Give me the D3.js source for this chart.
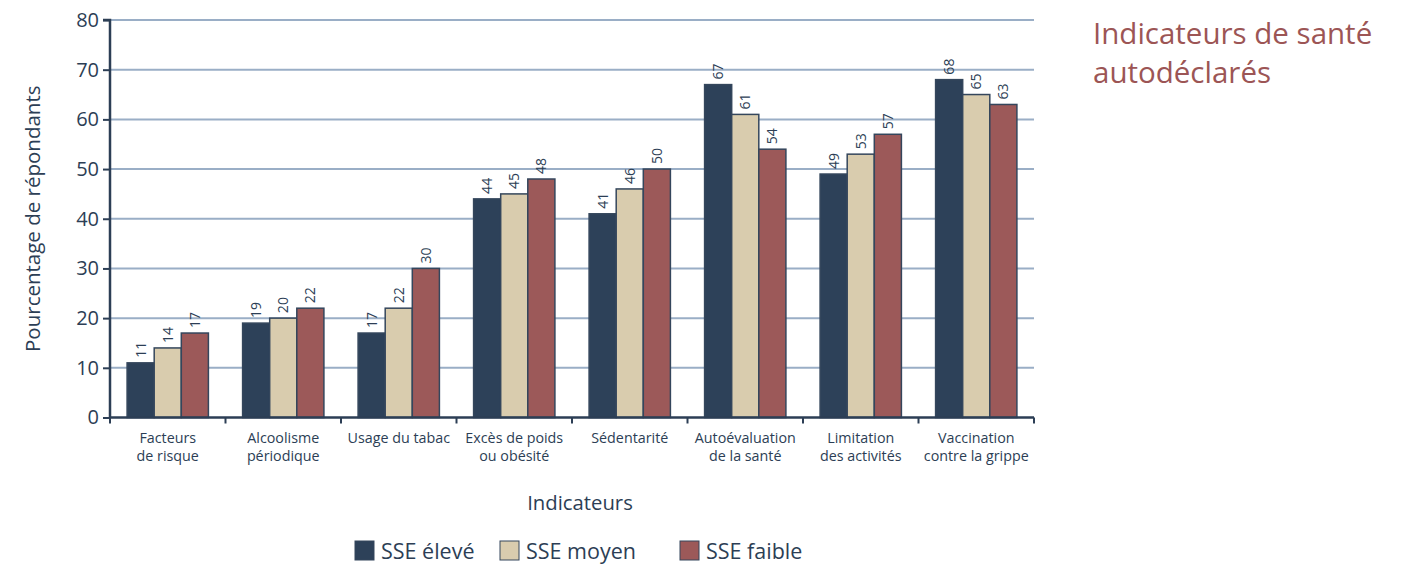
<!DOCTYPE html>
<html lang="fr">
<head>
<meta charset="utf-8">
<script src="https://cdn.jsdelivr.net/npm/d3@7"></script>
<style>
  html, body { margin: 0; padding: 0; background: #fff; }
  svg { display: block; font-family: "Open Sans", Lato, sans-serif; }
</style>
</head>
<body>
<svg id="chart" width="1408" height="564"></svg>
<script>
// Health indicators by socio-economic status (SSE)
const categories = [
  ["Facteurs", "de risque"],
  ["Alcoolisme", "périodique"],
  ["Usage du tabac"],
  ["Excès de poids", "ou obésité"],
  ["Sédentarité"],
  ["Autoévaluation", "de la santé"],
  ["Limitation", "des activités"],
  ["Vaccination", "contre la grippe"]
];
const seriesNames = ["SSE élevé", "SSE moyen", "SSE faible"];
const sseEleve  = [11, 19, 17, 44, 41, 67, 49, 68];
const sseMoyen  = [14, 20, 22, 45, 46, 61, 53, 65];
const sseFaible = [17, 22, 30, 48, 50, 54, 57, 63];
const yTicks = [0, 10, 20, 30, 40, 50, 60, 70, 80];
const colors = ["#2d4159", "#d9ccae", "#9c5959"];

const series = [sseEleve, sseMoyen, sseFaible];
const navy = "#2c3e55";

const svg = d3.select("#chart");
const plotLeft = 110, plotRight = 1034, plotTop = 20, plotBottom = 417.5;

const x0 = d3.scaleBand().domain(d3.range(categories.length)).range([plotLeft, plotRight]).padding(0);
const x1 = d3.scaleBand().domain(d3.range(series.length))
  .range([x0.bandwidth() * 0.148, x0.bandwidth() * 0.852]).padding(0);
const y = d3.scaleLinear().domain([0, 80]).range([plotBottom, plotTop]);

// horizontal grid
svg.append("g")
  .selectAll("line")
  .data(yTicks.filter(d => d > 0))
  .join("line")
  .attr("x1", plotLeft).attr("x2", plotRight)
  .attr("y1", d => y(d)).attr("y2", d => y(d))
  .attr("stroke", "#9aaec6").attr("stroke-width", 2);

// bars
const groups = svg.append("g")
  .selectAll("g")
  .data(categories.map((c, i) => i))
  .join("g")
  .attr("transform", i => `translate(${x0(i)},0)`);

groups.selectAll("rect")
  .data(i => series.map((s, k) => ({ k, v: s[i] })))
  .join("rect")
  .attr("x", d => x1(d.k))
  .attr("y", d => y(d.v))
  .attr("width", x1.bandwidth())
  .attr("height", d => y(0) - y(d.v))
  .attr("fill", d => colors[d.k])
  .attr("stroke", "#34465c")
  .attr("stroke-width", 1.5);

// value labels, rotated
groups.selectAll("text.val")
  .data(i => series.map((s, k) => ({ k, v: s[i] })))
  .join("text")
  .attr("class", "val")
  .attr("transform", d => `translate(${x1(d.k) + x1.bandwidth() / 2 + 5},${y(d.v) - 5}) rotate(-90)`)
  .attr("font-size", 14)
  .attr("fill", navy)
  .text(d => d.v);

// y axis
const yAxis = svg.append("g")
  .attr("transform", `translate(${plotLeft},0)`)
  .call(d3.axisLeft(y).tickValues(yTicks).tickSize(7).tickPadding(4));
yAxis.select(".domain").attr("stroke", navy).attr("stroke-width", 2.5)
  .attr("d", `M-7,${y(80)}H0V${y(0)}`);
yAxis.selectAll(".tick line").attr("stroke", navy).attr("stroke-width", 2);
yAxis.selectAll(".tick text").attr("font-size", 20).attr("fill", navy)
  .attr("font-family", "'Open Sans', sans-serif");

// x axis with boundary ticks
const xAxis = svg.append("g").attr("transform", `translate(0,${plotBottom})`);
xAxis.append("line").attr("x1", plotLeft).attr("x2", plotRight)
  .attr("stroke", navy).attr("stroke-width", 2.5);
const boundaries = d3.range(categories.length + 1).map(i => i < categories.length ? x0(i) : plotRight);
xAxis.selectAll("line.tk").data(boundaries).join("line").attr("class", "tk")
  .attr("x1", d => d).attr("x2", d => d).attr("y1", 0).attr("y2", 6)
  .attr("stroke", navy).attr("stroke-width", 2);

// category labels, one text element per line
const catLines = categories.flatMap((lines, i) => lines.map((t, j) => ({ i, j, t })));
xAxis.selectAll("text.cat").data(catLines).join("text").attr("class", "cat")
  .attr("x", d => x0(d.i) + x0.bandwidth() / 2)
  .attr("y", d => 25 + d.j * 18)
  .attr("text-anchor", "middle")
  .attr("font-size", 14.3)
  .attr("fill", navy)
  .text(d => d.t);

// axis titles
svg.append("text")
  .attr("transform", `translate(40,${(plotTop + plotBottom) / 2}) rotate(-90)`)
  .attr("text-anchor", "middle").attr("font-size", 20.5).attr("fill", navy)
  .text("Pourcentage de répondants");
svg.append("text")
  .attr("x", 580).attr("y", 510)
  .attr("text-anchor", "middle").attr("font-size", 20.3).attr("fill", navy)
  .text("Indicateurs");

// legend
const legendX = [355, 500, 680];
const legend = svg.append("g").selectAll("g").data(seriesNames).join("g")
  .attr("transform", (d, i) => `translate(${legendX[i]},541)`);
legend.append("rect").attr("width", 19).attr("height", 19)
  .attr("fill", (d, i) => colors[i]).attr("stroke", "#34465c").attr("stroke-width", 1);
legend.append("text").attr("x", 26).attr("y", 18)
  .attr("font-size", 21.5).attr("fill", navy).text(d => d);

// title
svg.append("text").attr("x", 1093).attr("y", 44)
  .attr("font-size", 29.5).attr("fill", "#9c5555").text("Indicateurs de santé");
svg.append("text").attr("x", 1093).attr("y", 83)
  .attr("font-size", 29.5).attr("fill", "#9c5555").text("autodéclarés");
</script>
</body>
</html>
